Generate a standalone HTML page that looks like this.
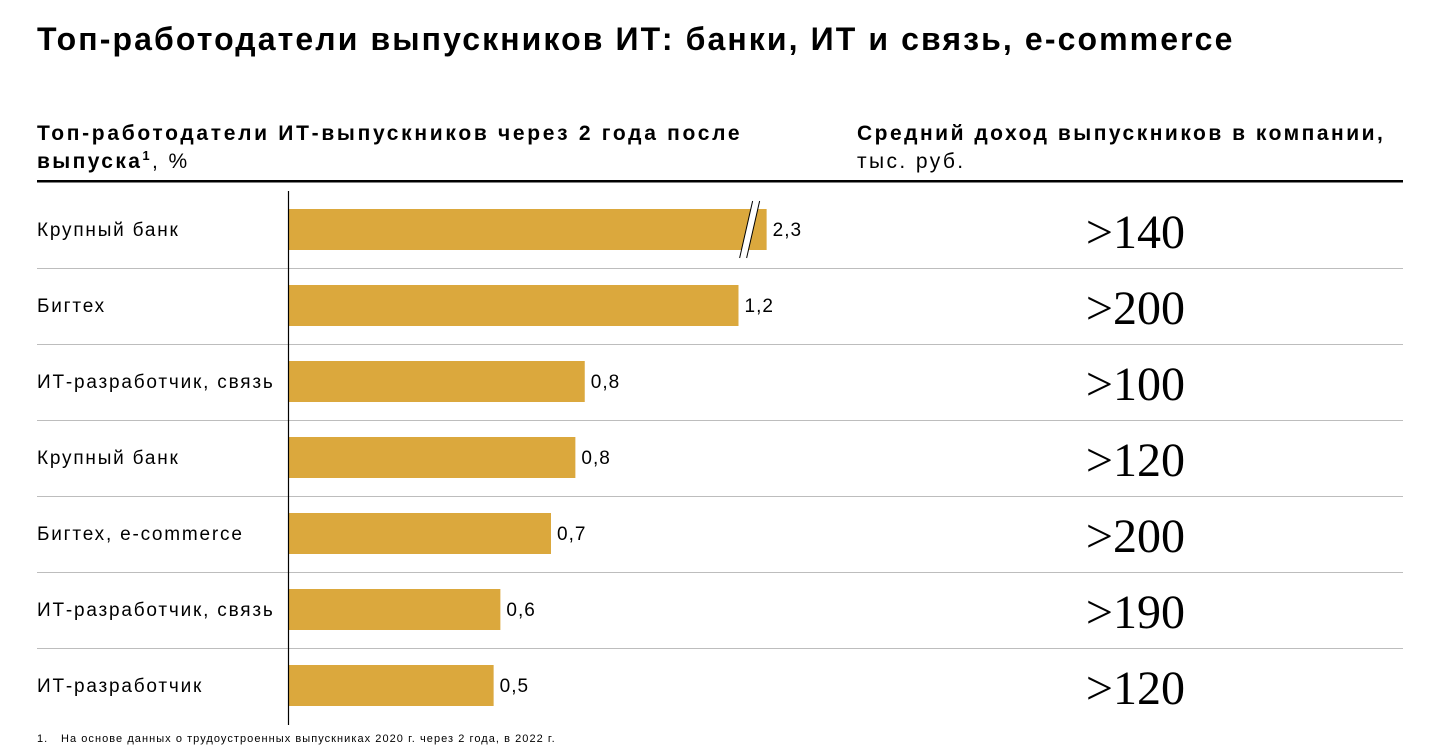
<!DOCTYPE html>
<html><head><meta charset="utf-8"><style>
body{margin:0;width:1445px;height:751px;background:#fff;overflow:hidden;font-family:"Liberation Sans","Noto Sans CJK SC",sans-serif;color:#000}
</style></head><body>
<svg id="c" width="1445" height="751">
<text x="37" y="50" font-size="32" font-weight="bold" letter-spacing="2.1">Топ-работодатели выпускников ИТ: банки, ИТ и связь, e-commerce</text>
<text x="37" y="140" font-size="21" font-weight="bold" letter-spacing="2.7">Топ-работодатели ИТ-выпускников через 2 года после</text>
<text x="37" y="168" font-size="21" letter-spacing="2.4"><tspan font-weight="bold">выпуска</tspan><tspan font-weight="bold" font-size="13" dy="-8">1</tspan><tspan dy="8">, %</tspan></text>
<text x="857" y="140" font-size="21" font-weight="bold" letter-spacing="2.5">Средний доход выпускников в компании,</text>
<text x="857" y="168" font-size="21" letter-spacing="2.4">тыс. руб.</text>
<rect x="37" y="180" width="1366" height="2.5" fill="#000"/>
<g id="rows"></g>
<line x1="288.5" y1="191" x2="288.5" y2="725" stroke="#000" stroke-width="1.2"/>
<text x="37" y="742" font-size="11" letter-spacing="1">1.</text>
<text x="61" y="742" font-size="11" letter-spacing="1.05">На основе данных о трудоустроенных выпускниках 2020 г. через 2 года, в 2022 г.</text>
</svg>
<script>
const categories=["Крупный банк","Бигтех","ИТ-разработчик, связь","Крупный банк","Бигтех, e-commerce","ИТ-разработчик, связь","ИТ-разработчик"];
const values=[2.3,1.2,0.79,0.765,0.70,0.565,0.547];
const valueLabels=["2,3","1,2","0,8","0,8","0,7","0,6","0,5"];
const incomes=[">140",">200",">100",">120",">200",">190",">120"];
const axisCap=1.275;
const NS="http://www.w3.org/2000/svg";
const g=document.getElementById('rows');
const x0=288.5, pxPerUnit=375, rowTop=192, rowH=76;
function xs(v){return x0+Math.min(v,axisCap)*pxPerUnit;}
function mk(t,a){const e=document.createElementNS(NS,t);for(const k in a)e.setAttribute(k,a[k]);g.appendChild(e);return e;}
categories.forEach((c,i)=>{
  const y=rowTop+i*rowH;
  const lab=mk('text',{x:37,y:y+44,'font-size':19,'letter-spacing':1.8});lab.textContent=c;
  
  
  const xe=xs(values[i]);
  const b=mk('rect',{x:x0,y:y+17,width:xe-x0,height:41,fill:'#DBA83D'});
  
  
  if(values[i]>axisCap){
    const bx=xe-15;
    const br=mk('polygon',{points:`${bx-12},${y+66} ${bx-5},${y+66} ${bx+8},${y+9} ${bx+1},${y+9}`,fill:'#fff'});
    
    
    const l1=mk('line',{x1:bx-12,y1:y+66,x2:bx+1,y2:y+9,stroke:'#000','stroke-width':1});
    
    
    const l2=mk('line',{x1:bx-5,y1:y+66,x2:bx+8,y2:y+9,stroke:'#000','stroke-width':1});
    
    
  }
  const vl=mk('text',{x:xe+6,y:y+44,'font-size':19,'letter-spacing':1});vl.textContent=valueLabels[i];
  
  
  const inc=mk('text',{x:1185,y:y+56,'font-size':48,'text-anchor':'end','font-family':'"Liberation Serif",serif'});inc.textContent=incomes[i];
  
  
  if(i<categories.length-1){
    const s=mk('rect',{x:37,y:y+rowH,width:1366,height:1,fill:'#bdbdbd'});
    
    
  }
});
</script>
</body></html>
